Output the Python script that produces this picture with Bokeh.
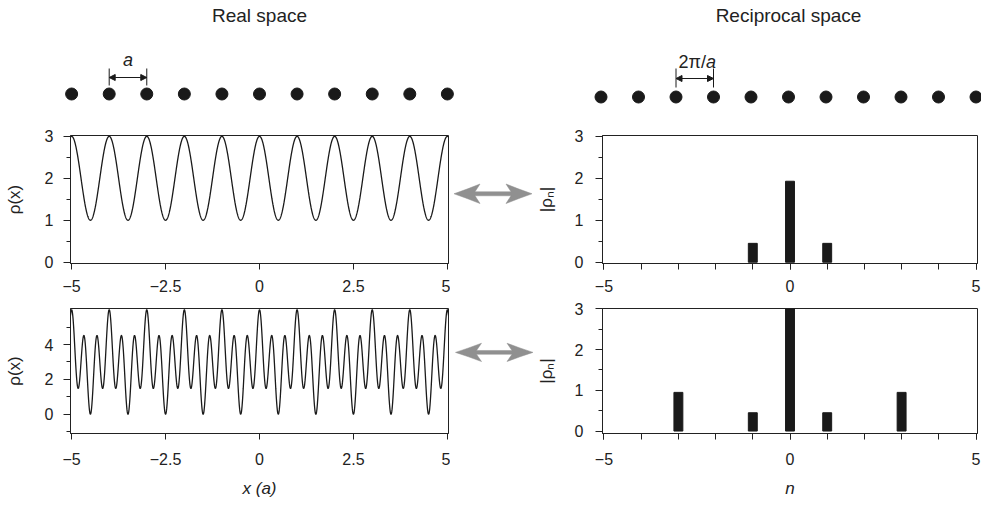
import numpy as np
from bokeh.plotting import figure
from bokeh.layouts import column, row
from bokeh.models import Range1d, FixedTicker, SingleIntervalTicker, Arrow, NormalHead
from bokeh.core.properties import value
from bokeh.embed import file_html
from bokeh.resources import INLINE

# ---------------- data ----------------
titles = ["Real space", "Reciprocal space"]
lattice_real = [-5, -4, -3, -2, -1, 0, 1, 2, 3, 4, 5]
lattice_recip = [-5, -4, -3, -2, -1, 0, 1, 2, 3, 4, 5]
scale_real = [-4, -3]
scale_recip = [-3, -2]
scale_labels = ["a", "2π/", "a"]

x_ticks_real = [-5, -2.5, 0, 2.5, 5]
x_tick_labels_real = ["−5", "−2.5", "0", "2.5", "5"]
n_ticks_major = [-5, 0, 5]
n_tick_labels = ["−5", "0", "5"]
n_ticks_minor = [-5, -4, -3, -2, -1, 0, 1, 2, 3, 4, 5]
rho_bot_ticks = [0, 2, 4]
rho_bot_minor = [-1, 1, 3, 5]

# Fourier coefficients shown as bars (heights)
top_n = [-1, 0, 1]
top_rho = [0.45, 1.93, 0.45]
bot_n = [-3, -1, 0, 1, 3]
bot_rho = [0.95, 0.45, 3.0, 0.45, 0.95]

top_curve_orders = [0, 1]
top_curve_coeffs = [2.0, 0.5]
bot_curve_orders = [0, 1, 3]
bot_curve_coeffs = [3.0, 0.5, 1.0]

y_label_real = "ρ(x)"
y_label_recip = "|ρₙ|"
x_label_real = "x (a)"
x_label_recip = "n"

# ---------------- style ----------------
FONT = "Liberation Sans"
AX = "#222222"
INK = "#1a1a1a"
GRAY = "#909090"

XR_L = (-5.03, 5.03)
XR_R = (-5.04, 5.04)
FRAME_W = 378
L_FRAME_X = 70   # screen
R_FRAME_X = 599  # screen
ARROW_X0, ARROW_X1 = 450, 533
TOTAL_W = 981


def synth(x, orders, coeffs):
    y = np.zeros_like(x)
    for n, c in zip(orders, coeffs):
        y += c if n == 0 else 2 * c * np.cos(2 * np.pi * n * x)
    return y


def style_axes(p, xlabel=None, ylabel=None, x_standoff=10, y_standoff=10, ylab_standoff=18):
    p.grid.visible = False
    p.outline_line_color = AX
    p.outline_line_width = 1
    for ax in p.axis:
        ax.axis_line_color = AX
        ax.major_tick_line_color = AX
        ax.minor_tick_line_color = AX
        ax.major_tick_in = 0
        ax.minor_tick_in = 0
        ax.major_label_text_font = FONT
        ax.major_label_text_font_size = "16px"
        ax.major_label_text_color = AX
        ax.axis_label_text_font = FONT
        ax.axis_label_text_font_size = "17px"
        ax.axis_label_text_color = AX
    p.xaxis.major_tick_out = 6
    p.xaxis.minor_tick_out = 6
    p.xaxis.major_label_standoff = x_standoff
    p.yaxis.major_tick_out = 7
    p.yaxis.minor_tick_out = 4
    p.yaxis.major_label_standoff = y_standoff
    if xlabel:
        p.xaxis.axis_label = xlabel
        p.xaxis.axis_label_text_font_style = "italic"
        p.xaxis.axis_label_standoff = 11
    if ylabel:
        p.yaxis.axis_label = ylabel
        p.yaxis.axis_label_text_font_style = "normal"
        p.yaxis.axis_label_standoff = ylab_standoff


def base_fig(width, height, xr, yr, l, r, t, b):
    return figure(width=width, height=height, x_range=Range1d(*xr), y_range=Range1d(*yr),
                  output_backend="svg", toolbar_location=None,
                  min_border_left=l, min_border_right=r, min_border_top=t, min_border_bottom=b,
                  background_fill_color="white", border_fill_color="white")


def arrow_shape(xl, xr, yc, hl=26, hh=15, back=21, sh=3.0):
    xs = [xl, xl + 13, xl + hl, xl + back, xr - back, xr - hl, xr - 13, xr,
          xr - 13, xr - hl, xr - back, xl + back, xl + hl, xl + 13]
    ys = [yc, yc - hh * 0.48, yc - hh, yc - sh, yc - sh, yc - hh, yc - hh * 0.48, yc,
          yc + hh * 0.48, yc + hh, yc + sh, yc + sh, yc + hh, yc + hh * 0.48]
    return xs, ys


def arrow_fig(height, y_top, y_bot, xl, xr, yc, hh):
    f = figure(width=ARROW_X1 - ARROW_X0, height=height, x_range=Range1d(ARROW_X0, ARROW_X1),
               y_range=Range1d(y_bot, y_top),
               output_backend="svg", toolbar_location=None, min_border=0,
               x_axis_location=None, y_axis_location=None, outline_line_color=None)
    f.grid.visible = False
    xs, ys = arrow_shape(xl, xr, yc, hh=hh)
    f.patch(xs, ys, fill_color=GRAY, line_color=GRAY, line_width=0.5)
    return f


# ---------------- header (screen y 0..112) ----------------
upp_l = (XR_L[1] - XR_L[0]) / FRAME_W
upp_r = (XR_R[1] - XR_R[0]) / FRAME_W
hx0 = XR_L[0] - L_FRAME_X * upp_l
rx0 = XR_R[0] - R_FRAME_X * upp_r
header = figure(width=TOTAL_W, height=112, x_range=Range1d(hx0, hx0 + TOTAL_W * upp_l),
                y_range=Range1d(112, 0), output_backend="svg", toolbar_location=None,
                min_border=0, x_axis_location=None, y_axis_location=None,
                outline_line_color=None)
header.extra_x_ranges = {"recip": Range1d(rx0, rx0 + TOTAL_W * upp_r)}
header.grid.visible = False

header.text(x=[0], y=[15], text=[titles[0]], text_font=value(FONT), text_font_size="19px",
            text_align="center", text_baseline="middle", text_color=AX)
header.text(x=[0], y=[15], text=[titles[1]], text_font=value(FONT), text_font_size="19px",
            text_align="center", text_baseline="middle", text_color=AX, x_range_name="recip")

header.scatter(x=lattice_real, y=[93.5] * len(lattice_real), size=12, color=INK)
header.scatter(x=lattice_recip, y=[96.5] * len(lattice_recip), size=12, color=INK,
               x_range_name="recip")

# scale markers
header.segment(x0=scale_real, y0=[68, 68], x1=scale_real, y1=[85, 85], line_color=INK, line_width=1)
header.segment(x0=scale_recip, y0=[68, 68], x1=scale_recip, y1=[87, 87], line_color=INK,
               line_width=1, x_range_name="recip")
header.add_layout(Arrow(start=NormalHead(size=6, fill_color=INK, line_color=INK),
                        end=NormalHead(size=6, fill_color=INK, line_color=INK),
                        x_start=scale_real[0], x_end=scale_real[1], y_start=77, y_end=77,
                        line_color=INK, line_width=1))
header.add_layout(Arrow(start=NormalHead(size=6, fill_color=INK, line_color=INK),
                        end=NormalHead(size=6, fill_color=INK, line_color=INK),
                        x_start=scale_recip[0], x_end=scale_recip[1], y_start=78, y_end=78,
                        line_color=INK, line_width=1, x_range_name="recip"))
mid_real = (scale_real[0] + scale_real[1]) / 2
mid_recip = (scale_recip[0] + scale_recip[1]) / 2
header.text(x=[mid_real], y=[59], text=[scale_labels[0]], text_font=value(FONT),
            text_font_size="18px", text_font_style="italic", text_align="center",
            text_baseline="middle", text_color=AX)
header.text(x=[mid_recip + 0.3], y=[61], text=[scale_labels[1]], text_font=value(FONT),
            text_font_size="18px", text_align="right", text_baseline="middle",
            text_color=AX, x_range_name="recip")
header.text(x=[mid_recip + 0.3], y=[61], text=[scale_labels[2]], text_font=value(FONT),
            text_font_size="18px", text_font_style="italic", text_align="left",
            text_baseline="middle", text_color=AX, x_range_name="recip")
hx, hy = arrow_shape(460, 536.5, 96.5, hh=15)
header.patch(hx, hy, fill_color=GRAY, line_color=GRAY, line_width=0.5)

# ---------------- row 1 (screen y 112..302) ----------------
xc = np.linspace(XR_L[0], XR_L[1], 2001)
LW = ARROW_X0
RW = TOTAL_W - ARROW_X1
RB_L = R_FRAME_X - ARROW_X1
RB_R = RW - RB_L - FRAME_W
LB_R = LW - L_FRAME_X - FRAME_W

p1 = base_fig(LW, 190, XR_L, (-0.03, 3.02), L_FRAME_X, LB_R, 23, 39)
p1.line(xc, synth(xc, top_curve_orders, top_curve_coeffs), line_color=INK, line_width=1.3)
style_axes(p1, ylabel=y_label_real)
p1.xaxis.ticker = FixedTicker(ticks=x_ticks_real, minor_ticks=[])
p1.xaxis.major_label_overrides = dict(zip(x_ticks_real, x_tick_labels_real))
p1.yaxis.ticker = SingleIntervalTicker(interval=1, num_minor_ticks=2)

a1 = arrow_fig(190, 112, 302, 453.5, 531.5, 198.5, 14.5)

p2 = base_fig(RW, 190, XR_R, (-0.03, 3.02), RB_L, RB_R, 23, 39)
p2.vbar(x=top_n, top=top_rho, bottom=0, width=0.24, fill_color=INK, line_color=INK)
style_axes(p2, ylabel=y_label_recip, y_standoff=12, ylab_standoff=16)
p2.xaxis.ticker = FixedTicker(ticks=n_ticks_major, minor_ticks=n_ticks_minor)
p2.xaxis.major_label_overrides = dict(zip(n_ticks_major, n_tick_labels))
p2.yaxis.ticker = SingleIntervalTicker(interval=1, num_minor_ticks=2)

# ---------------- row 2 (screen y 302..500) ----------------
p3 = base_fig(LW, 198, XR_L, (-1.105, 6.07), L_FRAME_X, LB_R, 6, 64)
p3.line(xc, synth(xc, bot_curve_orders, bot_curve_coeffs), line_color=INK, line_width=1.3)
style_axes(p3, xlabel=x_label_real, ylabel=y_label_real, x_standoff=13)
p3.xaxis.ticker = FixedTicker(ticks=x_ticks_real, minor_ticks=[])
p3.xaxis.major_label_overrides = dict(zip(x_ticks_real, x_tick_labels_real))
p3.yaxis.ticker = FixedTicker(ticks=rho_bot_ticks, minor_ticks=rho_bot_minor)

a2 = arrow_fig(198, 302, 500, 455, 532.5, 371.5, 14.5)

p4 = base_fig(RW, 198, XR_R, (-0.06, 3.01), RB_L, RB_R, 6, 64)
p4.vbar(x=bot_n, top=bot_rho, bottom=0, width=0.24, fill_color=INK, line_color=INK)
style_axes(p4, xlabel=x_label_recip, ylabel=y_label_recip, x_standoff=13, y_standoff=12,
           ylab_standoff=16)
p4.xaxis.ticker = FixedTicker(ticks=n_ticks_major, minor_ticks=n_ticks_minor)
p4.xaxis.major_label_overrides = dict(zip(n_ticks_major, n_tick_labels))
p4.yaxis.ticker = SingleIntervalTicker(interval=1, num_minor_ticks=2)

layout = column(header, row(p1, a1, p2), row(p3, a2, p4))

open("out.html", "w").write(file_html(layout, INLINE))
